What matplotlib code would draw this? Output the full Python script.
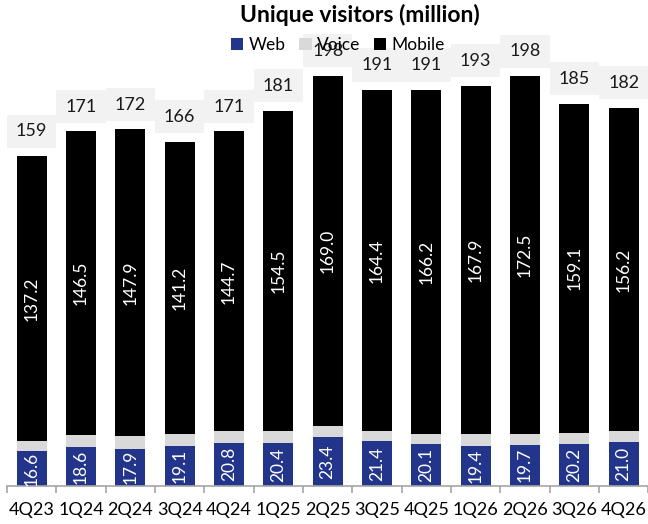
import numpy as np
import matplotlib
matplotlib.use("Agg")
from matplotlib import pyplot as plt
from matplotlib.patches import Rectangle

plt.rcParams['font.family'] = ['Lato', 'DejaVu Sans']

# data
quarters = ['4Q23', '1Q24', '2Q24', '3Q24', '4Q24', '1Q25', '2Q25',
            '3Q25', '4Q25', '1Q26', '2Q26', '3Q26', '4Q26']
web = [16.6, 18.6, 17.9, 19.1, 20.8, 20.4, 23.4, 21.4, 20.1, 19.4, 19.7, 20.2, 21.0]
voice = [5.2, 5.9, 6.2, 5.7, 5.5, 6.1, 5.6, 5.2, 4.7, 5.7, 5.5, 5.2, 5.2]
mobile = [137.2, 146.5, 147.9, 141.2, 144.7, 154.5, 169.0, 164.4, 166.2, 167.9, 172.5, 159.1, 156.2]
totals = [159, 171, 172, 166, 171, 181, 198, 191, 191, 193, 198, 185, 182]

web_c = '#22358a'
voice_c = '#d9d9d9'
mob_c = '#000000'

fig = plt.figure(figsize=(6.48, 5.24), dpi=100)
ax = fig.add_axes([7 / 648, 1 - 485.7 / 524, 641.3 / 648, (485.7 - 30) / 524])

x = np.arange(len(quarters))
web = np.array(web)
voice = np.array(voice)
mobile = np.array(mobile)

ax.bar(x, web, width=0.61, color=web_c, label='Web', zorder=2)
ax.bar(x, voice, width=0.61, bottom=web, color=voice_c, label='Voice', zorder=2)
ax.bar(x, mobile, width=0.61, bottom=web + voice, color=mob_c, label='Mobile', zorder=2)

# segment labels (voice labels sit off to the left, mostly lost on white)
for i in x:
    ax.text(i, web[i] / 2, f'{web[i]:.1f}', rotation=90, ha='center', va='center',
            color='white', fontsize=12.5, zorder=3)
    ax.text(i - 0.3, web[i] + voice[i] / 2, f'{voice[i]:.1f}', rotation=90, ha='center',
            va='center', color='white', fontsize=12.5, zorder=1.5)
    ax.text(i, web[i] + voice[i] + mobile[i] / 2, f'{mobile[i]:.1f}', rotation=90,
            ha='center', va='center', color='white', fontsize=12.5, zorder=3)

# total labels with grey boxes
top = web + voice + mobile
for i in x:
    ax.add_patch(Rectangle((i - 0.5, top[i] + 4.1), 1.0, 16, facecolor='#f2f2f2',
                           edgecolor='none', zorder=1, clip_on=False))
    ax.text(i, top[i] + 12, str(totals[i]), ha='center', va='center',
            fontsize=13, color='#1a1a1a', zorder=5, clip_on=False)

ax.set_xlim(-0.5, len(quarters) - 0.5)
ax.set_ylim(0, 220)
ax.set_yticks([])
ax.set_xticks(x)
ax.set_xticklabels(quarters, fontsize=13)
ax.set_xticks(np.arange(len(quarters) + 1) - 0.5, minor=True)
ax.tick_params(axis='x', which='major', length=0, pad=12)
ax.tick_params(axis='x', which='minor', length=5, width=1.2, color='#a6a6a6')
for s in ['top', 'left', 'right']:
    ax.spines[s].set_visible(False)
ax.spines['bottom'].set_color('#a6a6a6')
ax.spines['bottom'].set_linewidth(1.2)

fig.text(360 / 648, 1 - 15 / 524, 'Unique visitors (million)', ha='center', va='center',
         fontsize=16.5, fontweight='bold')
leg = fig.legend(loc='center', bbox_to_anchor=(338 / 648, 1 - 45 / 524), ncol=3,
                 frameon=False, fontsize=12.5, handlelength=0.7, handleheight=0.7,
                 handletextpad=0.3, columnspacing=0.8, borderpad=0)
leg.set_zorder(4)

fig.savefig('out.png', dpi=100)
